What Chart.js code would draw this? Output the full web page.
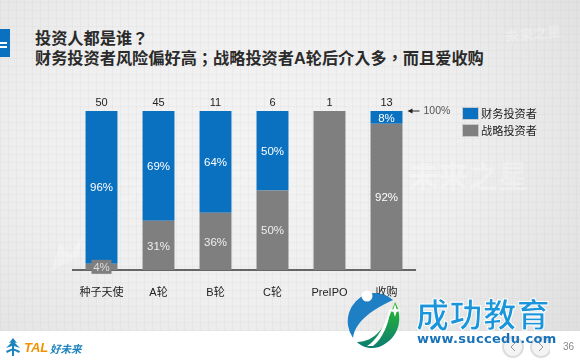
<!DOCTYPE html>
<html lang="zh-CN">
<head>
<meta charset="utf-8">
<script src="https://cdn.jsdelivr.net/npm/chart.js@4"></script>
<style>
html, body { margin: 0; padding: 0; }
body { width: 580px; height: 362px; overflow: hidden; position: relative; background: #fff;
  font-family: "Liberation Sans", "Noto Sans CJK SC", sans-serif; }
#bg { position: absolute; left: 0; top: 0; width: 580px; height: 331px;
  background:
    repeating-linear-gradient(0deg, rgba(190,190,190,.12) 0 1px, transparent 1px 8px),
    repeating-linear-gradient(90deg, rgba(190,190,190,.12) 0 1px, transparent 1px 8px),
    radial-gradient(ellipse 420px 300px at 42% 45%, #f3f3f3 0%, #efefef 50%, #dfdfdf 100%); }
canvas { position: absolute; left: 0; top: 0; }
.abs { position: absolute; white-space: nowrap; }
.wm { color: rgba(255,255,255,.3); font-weight: bold; }
#tab { left: 0; top: 29px; width: 10px; height: 28px; background: #0a70c0; }
#tab i { position: absolute; left: 0; width: 7px; height: 2px; background: #fff; }
.title { left: 35px; font-size: 16.2px; font-weight: bold; color: #2a2a2a; line-height: 20px;
  font-family: "Liberation Sans", "Noto Sans CJK TC", sans-serif; }
.leg { left: 462px; width: 15px; height: 11px; border: 1px solid #c8c8c8; }
.legt { left: 481px; font-size: 11.2px; color: #222; line-height: 14px; }
</style>
</head>
<body>
<div id="bg"></div>
<div class="abs wm" style="left:505px;top:23px;font-size:14px;transform:rotate(-6deg)">未来之星</div>
<div class="abs wm" style="left:120px;top:150px;font-size:44px;letter-spacing:2px;opacity:.5">未来之星</div>
<div class="abs wm" style="left:408px;top:152px;font-size:30px">未来之星</div>
<svg class="abs" style="left:40px;top:235px" width="50" height="40">
  <path d="M11 36 L20 8 L30 20 L42 2 L38 22 Z" fill="rgba(255,255,255,.25)"/>
</svg>
<div class="abs" id="tab"><i style="top:13px"></i><i style="top:17px"></i></div>
<div class="abs title" lang="zh-TW" style="top:28px">投资人都是谁？</div>
<div class="abs title" lang="zh-TW" style="top:48px">财务投资者风险偏好高；战略投资者A轮后介入多，而且爱收购</div>
<canvas id="chart" width="580" height="362"></canvas>
<div id="legend"></div>

<!-- footer -->
<svg class="abs" style="left:5px;top:337px" width="16" height="20" viewBox="0 0 16 20">
  <path d="M8 1 L12 6 L9.5 5.5 L15 11 L9 9 L9 19 L7 19 L7 9 L1 11 L6.5 5.5 L4 6 Z M1 14 L7 11.5 L7 13.5 L2 16 Z M15 14 L9 11.5 L9 13.5 L14 16 Z" fill="#1b83bd"/>
</svg>
<div class="abs" style="left:24px;top:340px;font:italic bold 13px 'Liberation Sans';color:#f39200">TAL</div>
<div class="abs" style="left:50px;top:341px;font-size:10.5px;font-style:italic;font-weight:bold;color:#1b83bd">好未来</div>
<div class="abs" style="left:563px;top:341px;font-size:10px;color:#888">36</div>
<svg class="abs" style="left:500px;top:334px" width="50" height="26">
  <circle cx="13" cy="13" r="10" fill="#f4f4f4" stroke="#ddd" stroke-width="2"/>
  <circle cx="41" cy="13" r="10" fill="#f4f4f4" stroke="#ddd" stroke-width="2"/>
  <path d="M15 9 L11 13 L15 17 M39 9 L43 13 L39 17" fill="none" stroke="#999"/>
</svg>

<!-- site stamp over the lower right corner -->
<svg class="abs" style="left:345px;top:290px" width="62" height="62" viewBox="0 0 62 62">
  <defs><linearGradient id="gr" x1="0" y1="0" x2="0" y2="1">
    <stop offset="0" stop-color="#2cbb2c"/><stop offset="1" stop-color="#0b7d72"/></linearGradient></defs>
  <path d="M22 4 A29 29 0 0 0 8 48 C10 34 22 22 48 10 A29 29 0 0 0 22 4 Z" fill="#1f7fc4"/>
  <circle cx="22" cy="6" r="5.5" fill="#fff"/>
  <path d="M50 12 C58 26 56 48 34 57 C24 60 16 56 12 52 C30 52 42 36 50 12 Z" fill="url(#gr)"/>
  <path d="M46 16 C40 36 32 50 22 56 L28 56 C38 48 44 34 46 16 Z" fill="#fff"/>
  <path d="M50 14 l1.5 5 5 1.5 -5 1.5 -1.5 5 -1.5 -5 -5 -1.5 5 -1.5 Z" fill="#fff"/>
</svg>
<div class="abs" style="left:416px;top:296px;font-size:33px;font-weight:bold;letter-spacing:.6px;color:#1a95dc;-webkit-text-stroke:1px #fff;line-height:40px">成功教育</div>
<div class="abs" style="left:417px;top:331px;font:bold 13px 'DejaVu Sans';color:#1a73b8;letter-spacing:.3px">www.succedu.com</div>

<script>
// values
const categories = ['种子天使', 'A轮', 'B轮', 'C轮', 'PreIPO', '收购'];
const totals = [50, 45, 11, 6, 1, 13];
const financial = [96, 69, 64, 50, 0, 8];
const strategic = [4, 31, 36, 50, 100, 92];
const seriesNames = ['财务投资者', '战略投资者'];
const seriesColors = ['#0a70c0', '#7f7f7f'];

const FONT = '"Liberation Sans", "Noto Sans CJK SC", sans-serif';

// legend is plain html, the rows come from the series names
document.getElementById('legend').innerHTML = seriesNames.map((name, i) => {
    const top = 107 + i * 17;
    return '<div class="abs leg" style="top:' + top + 'px;background:' + seriesColors[i] + '"></div>' +
           '<div class="abs legt" style="top:' + top + 'px">' + name + '</div>';
}).join('');

// percent labels, totals on top and the 100% arrow
const barLabels = {
    id: 'barLabels',
    afterDatasetsDraw(chart) {
        const ctx = chart.ctx;
        const x = chart.scales.x;
        const y = chart.scales.y;
        ctx.save();
        ctx.textAlign = 'center';
        ctx.textBaseline = 'middle';

        categories.forEach((c, i) => {
            const cx = x.getPixelForValue(i);
            ctx.font = '11px ' + FONT;
            ctx.fillStyle = '#222';
            ctx.fillText(totals[i], cx, y.getPixelForValue(100) - 8);

            ctx.font = '11.5px ' + FONT;
            if (financial[i] > 0) {
                const mid = strategic[i] + financial[i] / 2;
                ctx.fillStyle = '#fff';
                ctx.fillText(financial[i] + '%', cx, y.getPixelForValue(mid) + 1);
            }
            if (strategic[i] > 0 && strategic[i] < 100) {
                const py = y.getPixelForValue(strategic[i] / 2);
                if (strategic[i] < 10) {
                    ctx.fillStyle = '#7f7f7f';
                    ctx.fillRect(cx - 10, py - 7, 20, 14);
                    ctx.fillStyle = '#ddd';
                } else if (i < 5) {
                    ctx.fillStyle = '#eee';
                }
                ctx.fillText(strategic[i] + '%', cx, py + 1);
            }
        });

        // 100% marker next to the last bar
        const top = y.getPixelForValue(100);
        const ax = x.getPixelForValue(5) + 21;
        ctx.strokeStyle = '#222';
        ctx.fillStyle = '#222';
        ctx.lineWidth = 1;
        ctx.beginPath();
        ctx.moveTo(ax + 12, top);
        ctx.lineTo(ax + 3, top);
        ctx.stroke();
        ctx.beginPath();
        ctx.moveTo(ax, top);
        ctx.lineTo(ax + 5, top - 2.5);
        ctx.lineTo(ax + 5, top + 2.5);
        ctx.fill();
        ctx.font = '10.5px ' + FONT;
        ctx.fillStyle = '#555';
        ctx.textAlign = 'left';
        ctx.fillText('100%', ax + 16, top);
        ctx.restore();
    }
};

new Chart(document.getElementById('chart').getContext('2d'), {
    type: 'bar',
    data: {
        labels: categories,
        datasets: [
            { label: seriesNames[1], data: strategic, backgroundColor: seriesColors[1] },
            { label: seriesNames[0], data: financial, backgroundColor: seriesColors[0] },
        ],
    },
    plugins: [barLabels],
    options: {
        responsive: false,
        animation: false,
        layout: { padding: { left: 73, right: 165, top: 111, bottom: 62 } },
        plugins: { legend: { display: false }, tooltip: { enabled: false } },
        datasets: { bar: { categoryPercentage: 1, barPercentage: 0.56 } },
        scales: {
            x: {
                stacked: true,
                afterFit(scale) { scale.height = 30; },
                grid: { display: false, drawTicks: false },
                border: { color: '#666', width: 2 },
                ticks: { color: '#222', font: { size: 11, family: FONT }, padding: 16, maxRotation: 0 },
            },
            y: {
                stacked: true,
                display: false,
                min: 0,
                max: 100,
            },
        },
    },
});
</script>
</body>
</html>
